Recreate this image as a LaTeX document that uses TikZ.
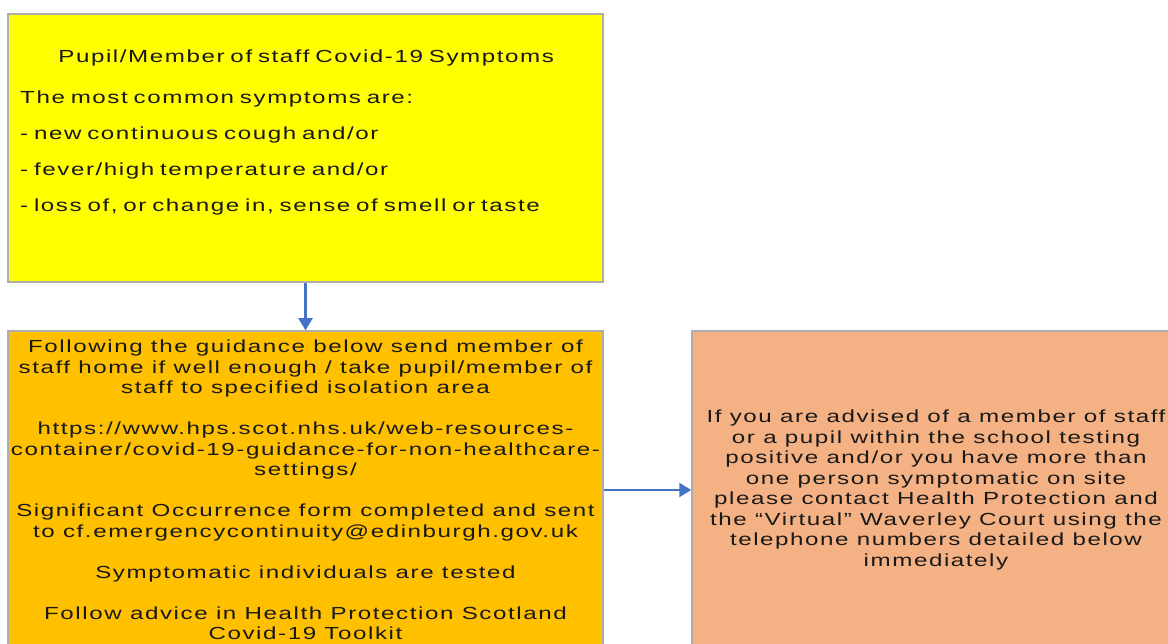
\documentclass[tikz,border=0pt]{standalone}
\usepackage{fontspec}
\setmainfont{Liberation Sans}[FakeStretch=1.38,LetterSpace=9]
\usetikzlibrary{arrows.meta}
\definecolor{boxyellow}{HTML}{FFFF00}
\definecolor{boxorange}{HTML}{FFC000}
\definecolor{boxsalmon}{HTML}{F4B183}
\definecolor{boxedge}{HTML}{ADADAD}
\definecolor{flowblue}{HTML}{4472C4}

\begin{document}
\begin{tikzpicture}[x=1pt,y=-1pt,
  box/.style={draw=boxedge, line width=1.5pt, rectangle, inner sep=0pt},
  boxtext/.style={inner sep=0pt, text=black!90, font=\fontsize{17.5}{20.5}\selectfont},
  flow/.style={flowblue, line width=2.2pt, -{Triangle[width=14pt,length=12pt]}}]
\clip (0,0) rectangle (1168,644);
% the three boxes
\node[box, fill=boxyellow, minimum width=595pt, minimum height=268pt] (symptoms) at (305.5,148) {};
\node[box, fill=boxorange, minimum width=595pt, minimum height=318pt, boxtext, align=center] (guidance) at (305.5,490)
  {Following the guidance below send member of\\
   staff home if well enough / take pupil/member of\\
   staff to specified isolation area\\[20.5pt]
   https://www.hps.scot.nhs.uk/web-resources-\\
   container/covid-19-guidance-for-non-healthcare-\\
   settings/\\[20.5pt]
   Significant Occurrence form completed and sent\\
   to cf.emergencycontinuity@edinburgh.gov.uk\\[20.5pt]
   Symptomatic individuals are tested\\[20.5pt]
   Follow advice in Health Protection Scotland\\
   Covid-19 Toolkit};
\node[box, fill=boxsalmon, minimum width=488pt, minimum height=318pt, boxtext, align=center] (contact) at (936,490)
  {If you are advised of a member of staff\\
   or a pupil within the school testing\\
   positive and/or you have more than\\
   one person symptomatic on site\\
   please contact Health Protection and\\
   the “Virtual” Waverley Court using the\\
   telephone numbers detailed below\\
   immediately};
% symptom list, top of the yellow box
\node[boxtext, anchor=north west, text width=572pt, align=left] (symtext) at (20,50)
  {\makebox[\linewidth]{Pupil/Member of staff Covid-19 Symptoms}\\[20.5pt]
   The most common symptoms are:\\[15.5pt]
   - new continuous cough and/or\\[15.5pt]
   - fever/high temperature and/or\\[15.5pt]
   - loss of, or change in, sense of smell or taste};
% arrows
\draw[flow] (symptoms) -- (guidance);
\draw[flow] (guidance) -- (contact);
\end{tikzpicture}
\end{document}
